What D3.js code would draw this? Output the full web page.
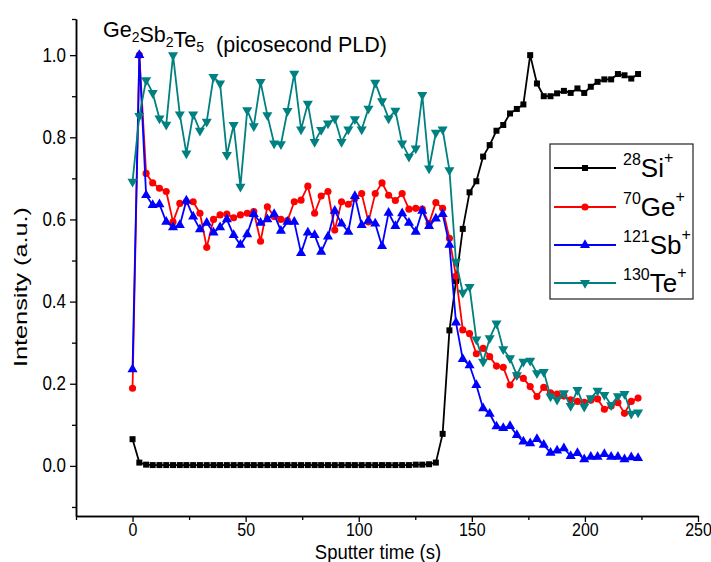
<!DOCTYPE html>
<html>
<head>
<meta charset="utf-8">
<script src="https://cdn.jsdelivr.net/npm/d3@7"></script>
<style>
  body { margin: 0; background: #fff; }
  svg { font-family: "Liberation Sans", Arial, sans-serif; }
</style>
</head>
<body>
<svg width="711" height="562"></svg>
<script>
// sputter time (s)
const times = [0, 3.0, 6.0, 8.9, 11.9, 14.9, 17.9, 20.9, 23.8, 26.8, 29.8, 32.8, 35.8, 38.7, 41.7, 44.7,
  47.7, 50.7, 53.6, 56.6, 59.6, 62.6, 65.6, 68.5, 71.5, 74.5, 77.5, 80.5, 83.4, 86.4, 89.4, 92.4,
  95.4, 98.3, 101.3, 104.3, 107.3, 110.3, 113.2, 116.2, 119.2, 122.2, 125.2, 128.1, 131.1, 134.1,
  137.1, 140.1, 143.0, 146.0, 149.0, 152.0, 155.0, 157.9, 160.9, 163.9, 166.9, 169.9, 172.8, 175.8,
  178.8, 181.8, 184.8, 187.7, 190.7, 193.7, 196.7, 199.7, 202.6, 205.6, 208.6, 211.6, 214.6, 217.5,
  220.5, 223.5];

const si = [0.065, 0.008, 0.003, 0.002, 0.002, 0.002, 0.002, 0.002, 0.002, 0.002, 0.002, 0.002,
  0.002, 0.002, 0.002, 0.002, 0.002, 0.002, 0.002, 0.002, 0.002, 0.002, 0.002, 0.002, 0.002, 0.002,
  0.002, 0.002, 0.002, 0.002, 0.002, 0.002, 0.002, 0.002, 0.002, 0.002, 0.002, 0.002, 0.002, 0.002,
  0.002, 0.002, 0.003, 0.003, 0.004, 0.008, 0.078, 0.330, 0.450, 0.577, 0.666, 0.693, 0.753, 0.781,
  0.816, 0.830, 0.858, 0.869, 0.880, 1.000, 0.931, 0.900, 0.900, 0.907, 0.913, 0.908, 0.919, 0.908,
  0.923, 0.935, 0.941, 0.941, 0.954, 0.951, 0.943, 0.954];

const ge = [0.189, 1.000, 0.712, 0.689, 0.676, 0.668, 0.594, 0.639, 0.643, 0.643, 0.615, 0.532,
  0.600, 0.611, 0.613, 0.604, 0.611, 0.615, 0.619, 0.547, 0.631, 0.607, 0.600, 0.597, 0.643, 0.647,
  0.681, 0.615, 0.657, 0.668, 0.574, 0.643, 0.637, 0.651, 0.663, 0.594, 0.663, 0.689, 0.659, 0.646,
  0.663, 0.625, 0.627, 0.625, 0.590, 0.641, 0.627, 0.554, 0.462, 0.331, 0.322, 0.273, 0.286, 0.266,
  0.243, 0.240, 0.197, 0.221, 0.213, 0.193, 0.169, 0.191, 0.178, 0.175, 0.170, 0.161, 0.157, 0.155,
  0.160, 0.163, 0.138, 0.146, 0.154, 0.128, 0.157, 0.165];

const sb = [0.235, 1.000, 0.659, 0.635, 0.637, 0.594, 0.581, 0.586, 0.646, 0.607, 0.576, 0.592,
  0.568, 0.581, 0.600, 0.562, 0.538, 0.564, 0.613, 0.592, 0.600, 0.613, 0.572, 0.594, 0.594, 0.518,
  0.568, 0.562, 0.521, 0.558, 0.621, 0.590, 0.570, 0.657, 0.586, 0.597, 0.590, 0.535, 0.616, 0.584,
  0.615, 0.592, 0.570, 0.621, 0.584, 0.602, 0.613, 0.538, 0.349, 0.260, 0.245, 0.197, 0.140, 0.127,
  0.096, 0.092, 0.097, 0.075, 0.059, 0.055, 0.065, 0.051, 0.032, 0.037, 0.043, 0.024, 0.031, 0.016,
  0.022, 0.022, 0.029, 0.022, 0.022, 0.016, 0.021, 0.019];

const te = [0.692, 0.852, 0.939, 0.908, 0.846, 0.831, 1.000, 0.856, 0.761, 0.856, 0.816, 0.838,
  0.947, 0.931, 0.757, 0.830, 0.680, 0.866, 0.827, 0.935, 0.854, 0.785, 0.783, 0.864, 0.955, 0.819,
  0.882, 0.789, 0.818, 0.834, 0.846, 0.789, 0.819, 0.844, 0.819, 0.870, 0.933, 0.888, 0.846, 0.865,
  0.785, 0.753, 0.773, 0.903, 0.724, 0.811, 0.819, 0.720, 0.497, 0.422, 0.436, 0.308, 0.254, 0.311,
  0.347, 0.284, 0.262, 0.221, 0.254, 0.256, 0.226, 0.229, 0.169, 0.161, 0.177, 0.146, 0.185, 0.144,
  0.165, 0.183, 0.173, 0.148, 0.170, 0.175, 0.127, 0.130];

const seriesNames = [['28', 'Si'], ['70', 'Ge'], ['121', 'Sb'], ['130', 'Te']];
const seriesValues = [si, ge, sb, te];
const seriesColors = ['#000000', '#ff0000', '#0000ff', '#008080'];
const seriesMarkers = [d3.symbolSquare, d3.symbolCircle, d3.symbolTriangle, d3.symbolTriangle];
const markerSizes = [36, 40, 44, 44];

const xMajor = [0, 50, 100, 150, 200, 250];
const xMinor = [-25, 25, 75, 125, 175, 225];
const yMajor = [0, 0.2, 0.4, 0.6, 0.8, 1.0];
const yMinor = [-0.1, 0.1, 0.3, 0.5, 0.7, 0.9, 1.088];

const svg = d3.select('svg');

const x = d3.scaleLinear().domain([-25, 250]).range([76, 698]);
const y = d3.scaleLinear().domain([-0.122, 1.088]).range([516, 19]);

// axes
const xAxis = svg.append('g').attr('transform', 'translate(0,516)')
  .call(d3.axisBottom(x).tickValues(xMajor).tickSize(6).tickSizeOuter(0).tickFormat(d3.format('d')));
svg.append('g').attr('transform', 'translate(0,516)')
  .call(d3.axisBottom(x).tickValues(xMinor).tickSize(4).tickSizeOuter(0).tickFormat(''));

const yAxis = svg.append('g').attr('transform', 'translate(76,0)')
  .call(d3.axisLeft(y).tickValues(yMajor).tickSize(6).tickSizeOuter(0).tickFormat(d3.format('.1f')));
svg.append('g').attr('transform', 'translate(76,0)')
  .call(d3.axisLeft(y).tickValues(yMinor).tickSize(4).tickSizeOuter(0).tickFormat(''));

svg.selectAll('.domain').attr('stroke', '#000').attr('stroke-width', 1.5);
svg.selectAll('.tick line').attr('stroke', '#000').attr('stroke-width', 1.3);
svg.selectAll('.tick text').attr('font-family', '"Liberation Sans", Arial, sans-serif')
  .attr('fill', '#000');
// slightly taller glyphs, as in the original export
xAxis.selectAll('text').attr('y', 0).attr('dy', 0).attr('font-size', 16)
  .attr('transform', 'translate(0,20) scale(1,1.15)');
yAxis.selectAll('text').attr('x', 0).attr('dy', 0).attr('font-size', 17)
  .attr('transform', 'translate(-10,6) scale(1,1.15)');

svg.append('text')
  .attr('transform', 'translate(378,559) scale(1,1.12)')
  .attr('text-anchor', 'middle')
  .attr('font-size', 18.5)
  .text('Sputter time (s)');

svg.append('text')
  .attr('text-anchor', 'middle')
  .attr('transform', 'translate(27,287) rotate(-90)')
  .attr('font-size', 18)
  .attr('textLength', 160)
  .attr('lengthAdjust', 'spacingAndGlyphs')
  .text('Intensity (a.u.)');

// title
const title = svg.append('text').attr('x', 103).attr('y', 37).attr('font-size', 21.5)
  .attr('xml:space', 'preserve');
[['Ge', '2'], ['Sb', '2'], ['Te', '5']].forEach(p => {
  title.append('tspan').text(p[0]);
  title.append('tspan').attr('font-size', 14).attr('dy', 5).text(p[1]);
  title.append('tspan').attr('dy', -5).text('');
});
title.append('tspan').text('\u00a0\u00a0(picosecond PLD)');

// series
const line = d3.line().x((d, i) => x(times[i])).y(d => y(d));

seriesValues.forEach((vals, k) => {
  const g = svg.append('g');
  g.append('path')
    .datum(vals)
    .attr('fill', 'none')
    .attr('stroke', seriesColors[k])
    .attr('stroke-width', 1.8)
    .attr('stroke-linejoin', 'round')
    .attr('d', line);
  const sym = d3.symbol().type(seriesMarkers[k]).size(markerSizes[k]);
  g.selectAll('path.m')
    .data(vals)
    .enter().append('path')
    .attr('class', 'm')
    .attr('d', sym)
    .attr('fill', seriesColors[k])
    .attr('transform', (d, i) => `translate(${x(times[i])},${y(d)})` + (k === 3 ? ' rotate(180)' : ''));
});

// legend
const legend = svg.append('g');
legend.append('rect')
  .attr('x', 550).attr('y', 144).attr('width', 143).attr('height', 155)
  .attr('fill', '#fff').attr('stroke', '#222').attr('stroke-width', 1.2);

const rowY = [168, 207, 245, 283];
seriesNames.forEach((n, k) => {
  const ry = rowY[k];
  legend.append('line')
    .attr('x1', 554).attr('x2', 616).attr('y1', ry).attr('y2', ry)
    .attr('stroke', seriesColors[k]).attr('stroke-width', 1.8);
  legend.append('path')
    .attr('d', d3.symbol().type(seriesMarkers[k]).size(markerSizes[k])())
    .attr('fill', seriesColors[k])
    .attr('transform', `translate(585,${ry})` + (k === 3 ? ' rotate(180)' : ''));
  const t = legend.append('text').attr('x', 623).attr('y', ry + 9).attr('font-size', 26);
  t.append('tspan').attr('font-size', 16).attr('dy', -12).text(n[0]);
  t.append('tspan').attr('dy', 12).text(n[1]);
  t.append('tspan').attr('font-size', 16).attr('dy', -14).text('+');
});
</script>
</body>
</html>
